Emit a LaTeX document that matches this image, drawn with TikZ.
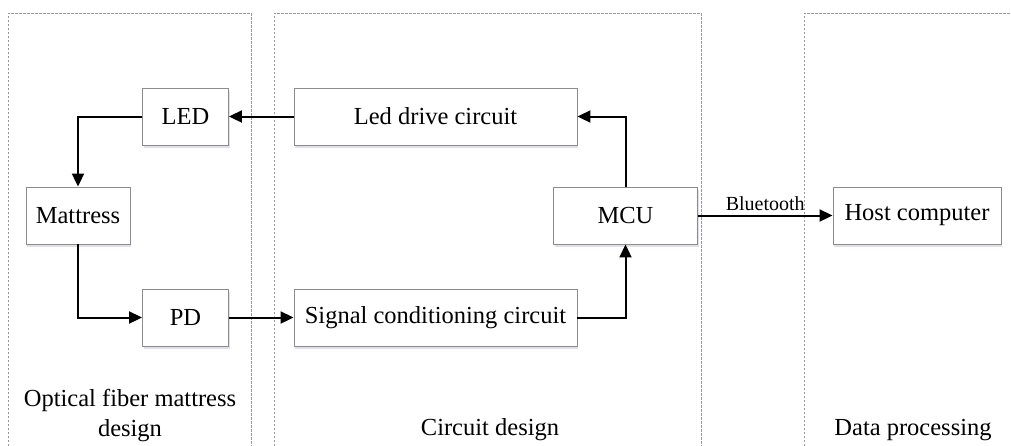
\documentclass[tikz,border=0pt]{standalone}
\usepackage{fontspec}
\setmainfont{Liberation Serif}
\usetikzlibrary{arrows.meta,shadows}
\begin{document}
\begin{tikzpicture}[x=1pt,y=-1pt,
  panel/.style={draw=black!40,line width=0.8pt,dash pattern=on 2.5pt off 1.5pt},
  blk/.style={draw=black!45,line width=0.9pt,fill=white,minimum height=57pt,inner sep=0pt,
    font=\fontsize{24.5}{28}\selectfont,
    drop shadow={shadow xshift=1pt,shadow yshift=-2.5pt,fill=blue!40!black!20,opacity=0.6}},
  arr/.style={line width=2pt,-{Triangle[length=13pt,width=12pt]}},
  captext/.style={font=\fontsize{24.5}{30}\selectfont,align=center,inner sep=0pt}]
\useasboundingbox (0,0) rectangle (1011,445);
\fill[white] (0,0) rectangle (1011,445);
% panels
\draw[panel] (8,446) -- (8,13) -- (251,13) -- (251,446);
\draw[panel] (274,446) -- (274,13) -- (701,13) -- (701,446);
\draw[panel] (804,446) -- (804,13) -- (1012,13);
% blocks
\node[blk,minimum width=86pt] (led) at (185.5,116.5) {LED};
\node[blk,minimum width=104pt] (mat) at (78,215.5) {Mattress};
\node[blk,minimum width=86pt] (pd) at (185.5,317.5) {PD};
\node[blk,minimum width=283pt] (ledd) at (435.5,116.5) {Led drive circuit};
\node[blk,minimum width=283pt] (sig) at (435.5,317.5) {Signal conditioning circuit};
\node[blk,minimum width=144pt] (mcu) at (625.5,215.5) {MCU};
\node[blk,minimum width=168pt] (host) at (917,215.5) {Host computer};
% captions
\node[captext] (c1) at (130,416) {Optical fiber mattress\\design};
\node[captext] (c2) at (490,430) {Circuit design};
\node[captext] (c3) at (913,430) {Data processing};
% connectors
\draw[arr] (ledd.west) -- (led.east);
\draw[arr] (led.west) -| (mat.north);
\draw[arr] (mat.south) |- (pd.west);
\draw[arr] (pd.east) -- (sig.west);
\draw[arr] (sig.east) -| (mcu.south);
\draw[arr] (mcu.north) |- (ledd.east);
\draw[arr] (mcu.east) -- node[above=4pt,font=\fontsize{20}{24}\selectfont,inner sep=0pt] (bt) {Bluetooth} (host.west);
\end{tikzpicture}
\end{document}
